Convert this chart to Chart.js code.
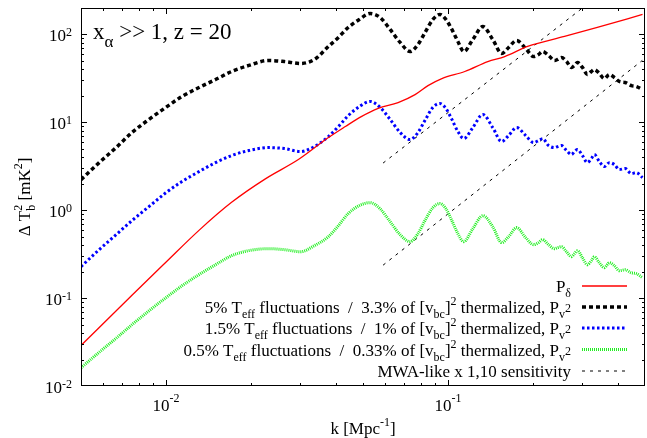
<!DOCTYPE html>
<html>
<head>
<meta charset="utf-8">
<script src="https://cdn.jsdelivr.net/npm/chart.js@4.4.0/dist/chart.umd.min.js"></script>
<style>
  html, body { margin: 0; padding: 0; background: #fff; }
  #plot { display: block; }
</style>
</head>
<body>
<canvas id="plot" width="647" height="438"></canvas>
<script>
// k [Mpc^-1] grid shared by the three P_v^2 curves
const kGrid = [0.005, 0.0058, 0.00666, 0.00758, 0.00871, 0.01, 0.0114, 0.0131, 0.0150, 0.0171,
  0.0197, 0.0231, 0.0263, 0.0300, 0.0336, 0.0377, 0.0409, 0.0443, 0.0485, 0.0530,
  0.0575, 0.0624, 0.0677, 0.0734, 0.0783, 0.0829, 0.0885, 0.0937, 0.0984, 0.1033,
  0.1085, 0.1139, 0.1226, 0.1330, 0.1442, 0.1551, 0.1642, 0.1753, 0.1887, 0.2013,
  0.2097, 0.2166, 0.2275, 0.2389, 0.2448, 0.2529, 0.2634, 0.2744, 0.2812, 0.2881,
  0.3000, 0.3124, 0.3227, 0.3307, 0.3444, 0.3587, 0.3737, 0.3892, 0.4054, 0.4256,
  0.4469, 0.4656, 0.49];

// 5% Teff fluctuations / 3.3% thermalized
const pv5 = [2.23, 3.48, 5.16, 7.66, 10.8, 14.8, 19.7, 24.9, 30.7, 37.9,
  44.4, 50.6, 49.2, 46.8, 51.9, 73.0, 92.5, 120, 148, 173,
  156, 114, 81.1, 64.0, 76.9, 105, 148, 169, 148, 114,
  83.2, 64.0, 87.7, 123, 87.7, 60.8, 71.1, 85.5, 69.3, 56.1,
  59.2, 64.0, 57.7, 50.6, 51.9, 54.7, 49.2, 42.1, 44.4, 48.0,
  42.1, 35.0, 37.9, 39.9, 36.0, 31.5, 35.0, 32.4, 29.2, 28.4,
  26.2, 25.6, 23.6];

// 1.5% Teff fluctuations / 1% thermalized
const pv15 = [0.228, 0.356, 0.527, 0.762, 1.10, 1.58, 2.12, 2.75, 3.48, 4.19,
  4.78, 5.16, 5.03, 4.65, 5.30, 6.89, 8.96, 11.9, 15.1, 17.3,
  14.8, 10.8, 7.66, 6.37, 7.66, 10.5, 14.8, 16.4, 14.4, 10.8,
  7.86, 6.53, 8.73, 12.3, 8.73, 6.04, 7.08, 8.73, 7.08, 5.89,
  6.21, 6.53, 5.45, 5.16, 5.30, 5.45, 4.78, 4.30, 4.65, 4.90,
  4.19, 3.48, 3.87, 4.30, 3.58, 3.14, 3.48, 3.31, 2.90, 2.98,
  2.61, 2.68, 2.35];

// 0.5% Teff fluctuations / 0.33% thermalized
const pv05 = [0.0161, 0.0242, 0.0349, 0.0498, 0.0718, 0.101, 0.138, 0.185, 0.240, 0.304,
  0.347, 0.365, 0.356, 0.337, 0.395, 0.500, 0.668, 0.915, 1.13, 1.22,
  1.04, 0.741, 0.527, 0.439, 0.541, 0.762, 1.07, 1.19, 1.04, 0.762,
  0.541, 0.439, 0.617, 0.867, 0.650, 0.428, 0.500, 0.634, 0.488, 0.406,
  0.428, 0.463, 0.406, 0.365, 0.375, 0.385, 0.337, 0.296, 0.321, 0.347,
  0.288, 0.240, 0.267, 0.296, 0.253, 0.222, 0.253, 0.234, 0.205, 0.210,
  0.194, 0.190, 0.171];

// density power spectrum P_delta
const kDelta = [0.005, 0.00758, 0.01, 0.0131, 0.0171, 0.0226, 0.0295, 0.0377, 0.0433,
  0.0493, 0.0566, 0.0666, 0.0765, 0.0850, 0.0952, 0.1148, 0.1385, 0.1590, 0.1917,
  0.2591, 0.3388, 0.49];
const pDelta = [0.0289, 0.108, 0.256, 0.590, 1.23, 2.29, 3.77, 6.71, 8.96,
  11.6, 14.4, 16.8, 20.7, 26.2, 31.5, 37.9, 49.2, 56.1, 73.0,
  94.9, 120, 169];

// MWA-like sensitivity, x1 and x10
const kMwa1 = [0.0589, 0.300];
const mwa1 = [3.44, 200];
const kMwa10 = [0.0589, 0.489];
const mwa10 = [0.237, 50.6];

// axis ticks
const xTicks = [0.01, 0.1];
const xTickExp = ['-2', '-1'];
const yTicks = [0.01, 0.1, 1, 10, 100];
const yTickExp = ['-2', '-1', '0', '1', '2'];

const FONT = '"Liberation Serif", "Times New Roman", serif';

function pts(ks, vs) {
    return ks.map((k, i) => ({ x: k, y: vs[i] }));
}

// text pieces: normal, subscript, superscript
const N = t => ({ t: t, size: 17 });
const SUB = t => ({ t: t, size: 12, dy: 5 });
const SUP = t => ({ t: t, size: 12, dy: -8 });

// draw a run of text pieces, a piece with stack:true shares x with the previous one
function drawRich(ctx, parts, x, y, align) {
    const placed = [];
    let w = 0, start = 0, last = 0;
    for (const p of parts) {
        ctx.font = p.size + 'px ' + FONT;
        const pw = ctx.measureText(p.t).width;
        if (p.stack) {
            placed.push([p, start]);
            last = Math.max(last, pw);
            w = start + last;
        } else {
            start = w;
            last = pw;
            placed.push([p, start]);
            w += pw;
        }
    }
    const x0 = align === 'right' ? x - w : align === 'center' ? x - w / 2 : x;
    ctx.textAlign = 'left';
    ctx.textBaseline = 'alphabetic';
    for (const [p, off] of placed) {
        ctx.font = p.size + 'px ' + FONT;
        ctx.fillText(p.t, x0 + off, y + (p.dy || 0));
    }
}

const styles = {
    delta: { borderColor: '#ff0000', borderWidth: 1.3, borderDash: [] },
    pv5: { borderColor: '#000000', borderWidth: 3.5, borderDash: [4, 3] },
    pv15: { borderColor: '#0000ff', borderWidth: 3, borderDash: [2.5, 2.5] },
    pv05: { borderColor: '#22ee22', borderWidth: 3, borderDash: [1, 1] },
    mwa: { borderColor: '#000000', borderWidth: 1, borderDash: [3, 5] }
};

const legendRows = [
    { parts: [N('P'), SUB('δ')], style: styles.delta },
    { parts: [N('5% T'), SUB('eff'), N(' fluctuations  /  3.3% of [v'), SUB('bc'), N(']'), SUP('2'),
        N(' thermalized, P'), SUB('v'), { t: '2', size: 12, dy: -1 }], style: styles.pv5 },
    { parts: [N('1.5% T'), SUB('eff'), N(' fluctuations  /  1% of [v'), SUB('bc'), N(']'), SUP('2'),
        N(' thermalized, P'), SUB('v'), { t: '2', size: 12, dy: -1 }], style: styles.pv15 },
    { parts: [N('0.5% T'), SUB('eff'), N(' fluctuations  /  0.33% of [v'), SUB('bc'), N(']'), SUP('2'),
        N(' thermalized, P'), SUB('v'), { t: '2', size: 12, dy: -1 }], style: styles.pv05 },
    { parts: [N('MWA-like x 1,10 sensitivity')], style: styles.mwa }
];
const legendY = [286, 307, 328, 349.5, 371];

// frame, inward ticks, labels, legend
const decor = {
    id: 'decor',
    afterDraw(chart) {
        const { ctx, chartArea: a, scales } = chart;
        const xs = scales.x, ys = scales.y;
        ctx.save();
        ctx.strokeStyle = '#000';
        ctx.lineWidth = 1;
        ctx.setLineDash([]);
        ctx.strokeRect(a.left + 0.5, a.top + 0.5, a.right - a.left - 1, a.bottom - a.top - 1);

        ctx.beginPath();
        for (let d = -3; d <= 0; d++) {
            for (let m = 1; m <= 9; m++) {
                const v = m * Math.pow(10, d);
                if (v < xs.min * 1.001 || v > xs.max * 0.999) continue;
                const px = Math.round(xs.getPixelForValue(v)) + 0.5;
                const len = m === 1 ? 6 : 3;
                ctx.moveTo(px, a.bottom); ctx.lineTo(px, a.bottom - len);
                ctx.moveTo(px, a.top); ctx.lineTo(px, a.top + len);
            }
        }
        for (let d = -2; d <= 2; d++) {
            for (let m = 1; m <= 9; m++) {
                const v = m * Math.pow(10, d);
                if (v < ys.min * 1.001 || v > ys.max * 0.999) continue;
                const py = Math.round(ys.getPixelForValue(v)) + 0.5;
                const len = m === 1 ? 6 : 3;
                ctx.moveTo(a.left, py); ctx.lineTo(a.left + len, py);
                ctx.moveTo(a.right, py); ctx.lineTo(a.right - len, py);
            }
        }
        ctx.stroke();

        ctx.fillStyle = '#000';
        xTicks.forEach((v, i) => {
            drawRich(ctx, [N('10'), { t: xTickExp[i], size: 12, dy: -9 }], xs.getPixelForValue(v), 411, 'center');
        });
        yTicks.forEach((v, i) => {
            drawRich(ctx, [N('10'), { t: yTickExp[i], size: 12, dy: -5 }], 72, ys.getPixelForValue(v) + 7, 'right');
        });

        // axis titles
        drawRich(ctx, [N('k [Mpc'), SUP('-1'), N(']')], 363, 434, 'center');
        ctx.save();
        ctx.translate(30, 197);
        ctx.rotate(-Math.PI / 2);
        drawRich(ctx, [N('Δ T'), SUB('b'), { t: '2', size: 12, dy: -8, stack: true }, N(' [mK'), SUP('2'), N(']')], 0, 0, 'center');
        ctx.restore();

        // annotation
        drawRich(ctx, [{ t: 'x', size: 23 }, { t: 'α', size: 17, dy: 8 }, { t: ' >> 1, z = 20', size: 23 }], 93, 39, 'left');

        // legend
        legendRows.forEach((row, i) => {
            const y = legendY[i];
            drawRich(ctx, row.parts, 571, y + 6, 'right');
            ctx.beginPath();
            ctx.strokeStyle = row.style.borderColor;
            ctx.lineWidth = row.style.borderWidth;
            ctx.setLineDash(row.style.borderDash);
            ctx.moveTo(582, y);
            ctx.lineTo(627, y);
            ctx.stroke();
        });
        ctx.restore();
    }
};

const ctx = document.getElementById('plot').getContext('2d');
new Chart(ctx, {
    type: 'line',
    data: {
        datasets: [
            Object.assign({ label: 'P_delta', data: pts(kDelta, pDelta) }, styles.delta),
            Object.assign({ label: '5%', data: pts(kGrid, pv5) }, styles.pv5),
            Object.assign({ label: '1.5%', data: pts(kGrid, pv15) }, styles.pv15),
            Object.assign({ label: '0.5%', data: pts(kGrid, pv05) }, styles.pv05),
            Object.assign({ label: 'MWA x1', data: pts(kMwa1, mwa1) }, styles.mwa),
            Object.assign({ label: 'MWA x10', data: pts(kMwa10, mwa10) }, styles.mwa)
        ]
    },
    options: {
        responsive: false,
        animation: false,
        layout: { padding: { left: 81, right: 2, top: 8, bottom: 52 } },
        elements: {
            point: { radius: 0 },
            line: { cubicInterpolationMode: 'monotone', fill: false }
        },
        plugins: { legend: { display: false }, tooltip: { enabled: false } },
        scales: {
            x: { type: 'logarithmic', min: 0.005, max: 0.5, display: false },
            y: { type: 'logarithmic', min: 0.01, max: 200, display: false }
        }
    },
    plugins: [decor]
});
</script>
</body>
</html>
